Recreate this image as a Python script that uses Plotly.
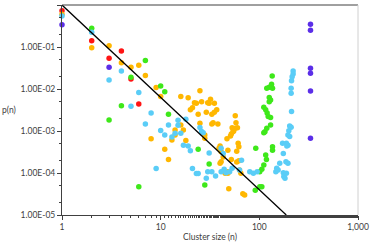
import plotly.graph_objects as go

# ---- data ----
RED_N = [1, 2, 3, 4, 5, 6]
RED_P = [0.73, 0.141, 0.054, 0.080, 0.0174, 0.0044]

ORANGE_N = [1, 2, 3, 4, 5, 6, 7, 8, 9, 10, 11, 12, 13, 14, 14, 16, 16, 17, 18, 19,
            20, 21, 22, 23, 24, 25, 25, 26, 28, 28, 29, 30, 31, 32, 33, 33, 34, 35, 35, 37,
            38, 39, 40, 40, 41, 41, 43, 45, 47, 48, 48, 48, 49, 51, 52, 52, 53, 54, 55, 57,
            57, 58, 59, 59, 60, 61, 62, 62, 63, 65, 68, 71]
ORANGE_P = [0.60, 0.096, 0.107, 0.042, 0.033, 0.037, 0.021, 6.5e-4, 0.0109, 0.0066, 3.7e-4, 2.1e-4, 6.1e-4, 1.06e-3, 8.0e-4, 0.0066, 1.39e-3, 1.06e-3, 5.9e-4, 0.0062,
            3.2e-3, 3.6e-3, 4.7e-3, 4.6e-3, 2.5e-3, 9.1e-3, 1.52e-3, 5.0e-3, 8.0e-4, 6.7e-4, 2.8e-3, 4.7e-3, 4.6e-3, 5.7e-3, 2.5e-3, 1.47e-3, 1.58e-3, 4.6e-3, 2.8e-3, 3.2e-3,
            1.47e-3, 3.9e-4, 4.4e-4, 1.7e-4, 3.2e-4, 1.86e-4, 2.4e-4, 9.8e-5, 6.5e-4, 3.5e-4, 1.07e-4, 9.8e-5, 4.2e-5, 7.6e-4, 8.5e-4, 2.1e-4, 1.2e-3, 9.6e-4, 1.0e-3, 2.3e-3,
            1.16e-3, 1.58e-3, 3.3e-4, 1.83e-4, 1.2e-3, 5.1e-4, 4.2e-4, 1.96e-4, 1.18e-4, 9.8e-5, 3.2e-5, 3.0e-5]

GREEN_N = [2, 3, 4, 5, 6, 7, 10, 11, 12, 24, 28, 31, 91, 92, 101, 101, 106, 106, 111,
           116, 118, 111, 116, 120, 130, 114, 111, 119, 130, 123, 136, 136, 126, 130, 126, 119, 126, 136, 133, 135]
GREEN_P = [0.28, 1.83e-3, 4.0e-3, 0.019, 4.7e-5, 0.048, 0.0118, 8.6e-3, 2.5e-3, 3.7e-4, 5.2e-5, 1.64e-4, 3.9e-5, 3.9e-4, 1.07e-4, 4.7e-5, 4.7e-5, 1.22e-4, 1.55e-4,
           2.7e-4, 2.1e-4, 3.7e-3, 3.2e-3, 2.7e-3, 2.1e-3, 9.6e-4, 9.1e-4, 1.16e-3, 1.39e-3, 2.2e-3, 4.2e-4, 3.5e-4, 6.3e-3, 5.5e-3, 5.0e-3, 0.0104, 0.011, 0.0104, 0.0129, 0.0204]

CYAN_N = [1, 2, 3, 4, 5, 6, 7, 8, 9, 10, 11, 12, 13, 14, 15, 15, 16, 17, 18, 19,
          20, 21, 23, 24, 25, 26, 27, 29, 30, 31, 33, 36, 41, 41, 43, 44, 46, 50, 53, 63,
          66, 80, 87, 95, 147, 150, 155, 161, 175, 177, 182, 186, 188, 195, 175, 172, 188, 195, 190, 195,
          203, 199, 203, 210, 212, 220, 220, 215, 212, 210, 210]
CYAN_P = [0.55, 0.224, 0.0164, 0.027, 3.9e-3, 8.3e-3, 1.47e-3, 2.7e-3, 1.28e-4, 1.03e-3, 8.0e-4, 1.39e-3, 7.2e-4, 8.8e-4, 1.8e-3, 1.37e-3, 8.8e-4, 4.6e-4, 1.9e-3, 4.4e-4,
          3.4e-4, 1.28e-4, 9.7e-5, 9.7e-5, 1.21e-3, 9.7e-4, 9.1e-4, 7.5e-5, 1.07e-4, 3.0e-4, 1.07e-4, 8.5e-5, 3.9e-4, 1.07e-4, 2.9e-4, 1.22e-4, 1.02e-4, 1.07e-4, 1.29e-4, 1.18e-4,
          2.0e-4, 1.07e-4, 9.8e-5, 1.07e-4, 1.07e-4, 1.29e-4, 1.18e-4, 1.7e-4, 1.02e-4, 8.2e-5, 7.5e-5, 1.86e-4, 9.8e-5, 1.7e-4, 2.9e-4, 5.1e-4, 5.1e-4, 4.6e-4, 4.4e-4, 8.0e-4,
          7.4e-4, 1.02e-3, 1.32e-3, 1.22e-3, 2.9e-3, 0.027, 0.0228, 0.0196, 0.0158, 0.0104, 7.9e-3]

PURPLE_N = [1, 3, 330, 330, 330, 330, 330, 330]
PURPLE_P = [0.34, 0.033, 0.35, 0.25, 0.031, 0.0237, 9.0e-3, 6.7e-4]

FIT_N = [1, 187.5]
FIT_P = [1.0, 1e-5]

X_TICKS = [1, 10, 100, 1000]
X_LABELS = ["1", "10", "100", "1,000"]
Y_TICKS = [1, 1e-1, 1e-2, 1e-3, 1e-4, 1e-5]
Y_LABELS = ["1.00E+00", "1.00E-01", "1.00E-02", "1.00E-03", "1.00E-04", "1.00E-05"]

SERIES = [
    (RED_N, RED_P, "#ff1414"),
    (ORANGE_N, ORANGE_P, "#ffb700"),
    (GREEN_N, GREEN_P, "#3ee81a"),
    (CYAN_N, CYAN_P, "#5acdf7"),
    (PURPLE_N, PURPLE_P, "#5b2ee8"),
]

fig = go.Figure()
for n, p, c in SERIES:
    fig.add_trace(go.Scatter(x=n, y=p, mode="markers",
                             marker=dict(color=c, size=5.5, line=dict(width=0)),
                             showlegend=False, cliponaxis=False))
fig.add_trace(go.Scatter(x=FIT_N, y=FIT_P, mode="lines",
                         line=dict(color="#000000", width=1.3), showlegend=False))

axis_font = dict(family="Lato, Liberation Sans, sans-serif", size=8.5, color="#404040")
fig.update_layout(
    width=370, height=245,
    margin=dict(l=62, r=12, t=5, b=30, autoexpand=False),
    paper_bgcolor="white", plot_bgcolor="white",
    font=axis_font,
    xaxis=dict(type="log", range=[0, 3], tickvals=X_TICKS, ticktext=X_LABELS,
               showgrid=False, zeroline=False, showline=True, linecolor="#404040", linewidth=1,
               ticks="outside", ticklen=4, tickcolor="#404040", tickfont=axis_font,
               minor=dict(ticks="outside", ticklen=2, tickcolor="#404040", showgrid=False)),
    yaxis=dict(type="log", range=[-5, 0], tickvals=Y_TICKS, ticktext=Y_LABELS,
               showgrid=False, zeroline=False, showline=True, linecolor="#404040", linewidth=1,
               ticks="outside", ticklen=4, tickcolor="#404040", tickfont=axis_font,
               minor=dict(ticks="outside", ticklen=2, tickcolor="#404040", showgrid=False)),
    shapes=[
        dict(type="line", xref="paper", yref="paper", x0=0, x1=1, y0=1, y1=1,
             line=dict(color="#404040", width=1)),
        dict(type="line", xref="paper", yref="paper", x0=1, x1=1, y0=0, y1=1,
             line=dict(color="#d0d0d0", width=1)),
    ],
    annotations=[
        dict(text="p(n)", xref="paper", yref="paper", x=-0.21, y=0.5, xanchor="left",
             yanchor="middle", showarrow=False, font=axis_font),
        dict(text="Cluster size (n)", xref="paper", yref="paper", x=0.5, y=-0.105,
             xanchor="center", yanchor="middle", showarrow=False, font=axis_font),
    ],
)

fig.write_html("out.html", config={"displayModeBar": False},
               post_script="document.body.style.margin='0';document.body.style.padding='0';")
